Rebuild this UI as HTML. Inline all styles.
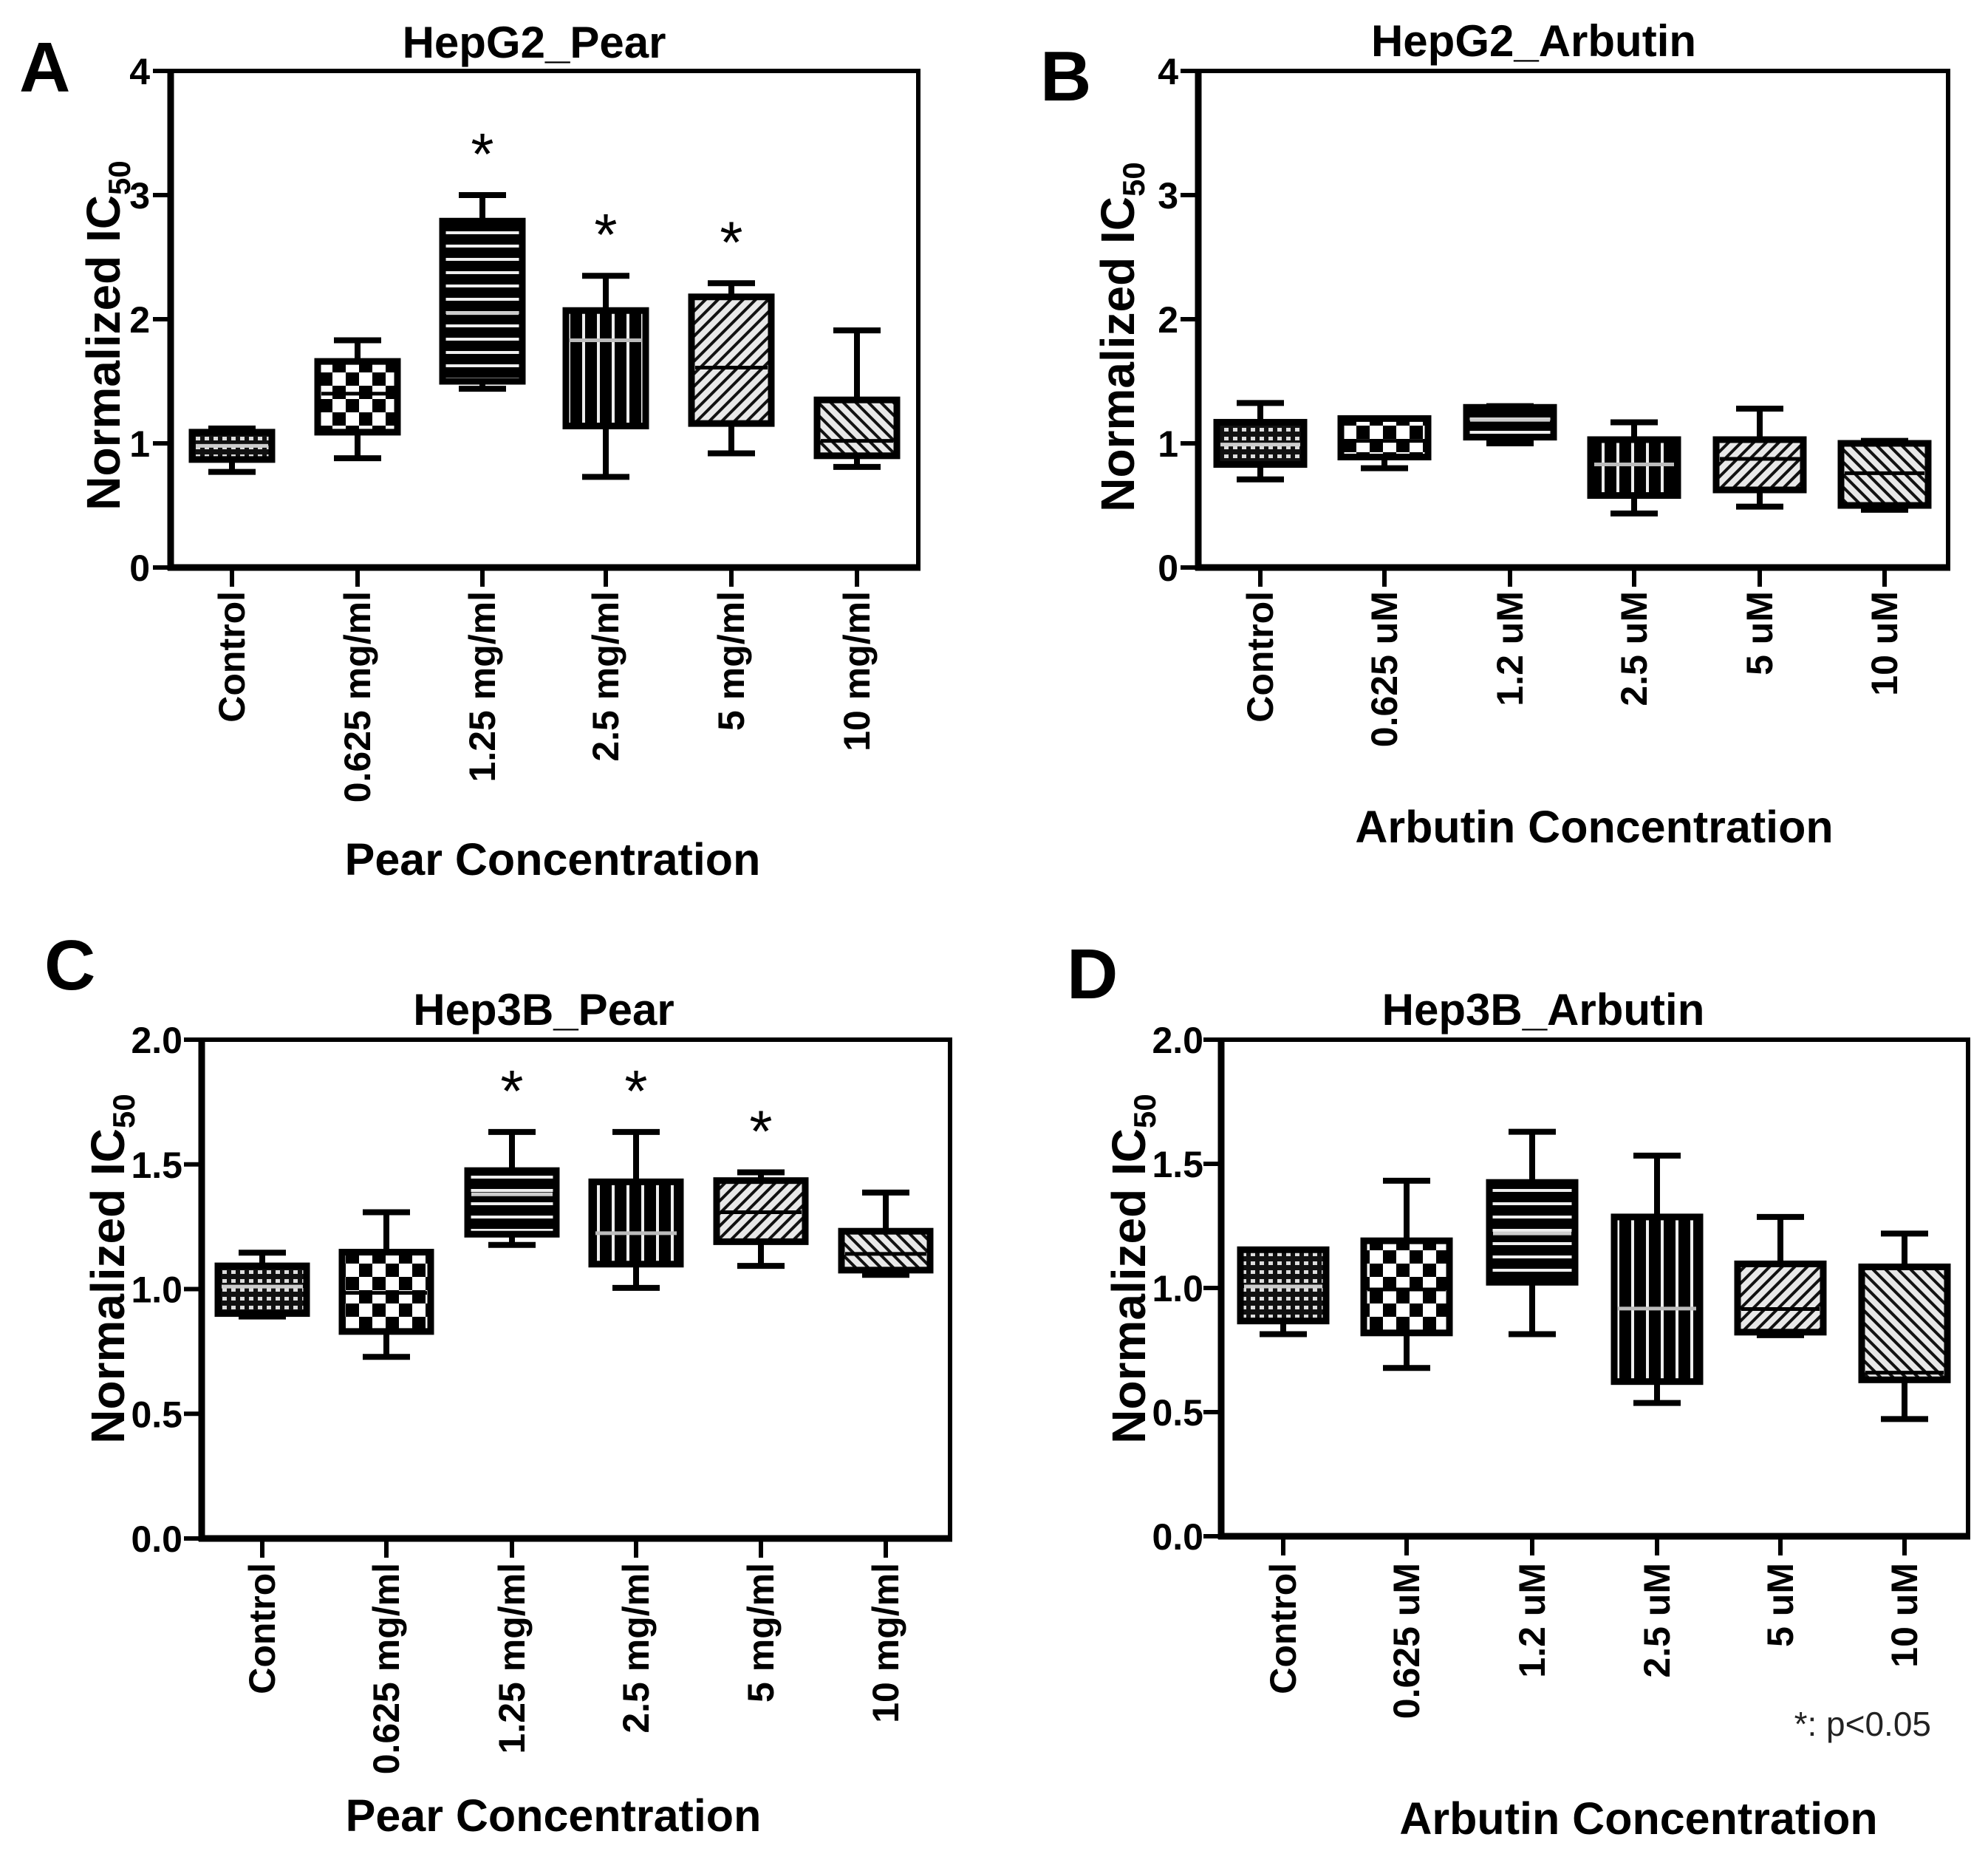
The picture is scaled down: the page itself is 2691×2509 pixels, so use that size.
<!DOCTYPE html>
<html><head><meta charset="utf-8"><style>
html,body{margin:0;padding:0;background:#fff}
svg{display:block}
text{font-family:"Liberation Sans",Arial,sans-serif}
</style></head>
<body>
<svg id="fig" width="2691" height="2509" viewBox="0 0 2691 2509" xmlns="http://www.w3.org/2000/svg">
<defs>
<pattern id="p0" width="12" height="12" patternUnits="userSpaceOnUse"><rect width="12" height="12" fill="#111"/><rect x="1" y="3" width="6" height="5" fill="#ddd"/></pattern>
<pattern id="p1" width="36" height="36" patternUnits="userSpaceOnUse"><rect width="36" height="36" fill="#fff"/><rect width="18" height="18" fill="#000"/><rect x="18" y="18" width="18" height="18" fill="#000"/></pattern>
<pattern id="p2" width="18" height="18" patternUnits="userSpaceOnUse"><rect width="18" height="18" fill="#000"/><rect y="7" width="18" height="4" fill="#eee"/></pattern>
<pattern id="p3" width="20" height="20" patternUnits="userSpaceOnUse"><rect width="20" height="20" fill="#000"/><rect x="8" width="4" height="20" fill="#eee"/></pattern>
<pattern id="p4" width="12" height="12" patternUnits="userSpaceOnUse" patternTransform="rotate(45)"><rect width="12" height="12" fill="#e8e8e8"/><rect width="4" height="12" fill="#111"/></pattern>
<pattern id="p5" width="12" height="12" patternUnits="userSpaceOnUse" patternTransform="rotate(-45)"><rect width="12" height="12" fill="#e8e8e8"/><rect width="4" height="12" fill="#111"/></pattern>
</defs>
</svg>
<script>
// ---- data ----
const catsPear = ["Control","0.625 mg/ml","1.25 mg/ml","2.5 mg/ml","5 mg/ml","10 mg/ml"];
const catsArb = ["Control","0.625 uM","1.2 uM","2.5 uM","5 uM","10 uM"];
const ticksA = ["0","1","2","3","4"];
const ticksC = ["0.0","0.5","1.0","1.5","2.0"];
// Panel A HepG2_Pear
const aMin = [0.77,0.88,1.44,0.73,0.92,0.81];
const aQ1  = [0.87,1.09,1.50,1.14,1.16,0.90];
const aMed = [0.98,1.40,2.05,1.83,1.61,1.02];
const aQ3  = [1.09,1.66,2.79,2.07,2.18,1.35];
const aMax = [1.12,1.83,3.00,2.35,2.29,1.91];
const aStar = [false,false,true,true,true,false];
// Panel B HepG2_Arbutin
const bMin = [0.71,0.80,1.00,0.435,0.49,0.465];
const bQ1  = [0.83,0.89,1.05,0.58,0.625,0.50];
const bMed = [0.99,1.02,1.19,0.83,0.875,0.76];
const bQ3  = [1.17,1.20,1.29,1.03,1.03,1.00];
const bMax = [1.325,1.20,1.30,1.17,1.28,1.02];
const bStar = [false,false,false,false,false,false];
// Panel C Hep3B_Pear
const cMin = [0.89,0.728,1.177,1.005,1.093,1.057];
const cQ1  = [0.902,0.83,1.22,1.10,1.19,1.076];
const cMed = [1.01,0.985,1.38,1.224,1.308,1.141];
const cQ3  = [1.093,1.148,1.475,1.43,1.435,1.232];
const cMax = [1.146,1.308,1.63,1.63,1.468,1.387];
const cStar = [false,false,true,true,true,false];
// Panel D Hep3B_Arbutin
const dMin = [0.814,0.678,0.814,0.537,0.81,0.472];
const dQ1  = [0.867,0.819,1.023,0.623,0.822,0.63];
const dMed = [1.006,0.994,1.22,0.917,0.915,0.659];
const dQ3  = [1.154,1.19,1.425,1.286,1.097,1.085];
const dMax = [1.154,1.432,1.629,1.533,1.286,1.219];
const dStar = [false,false,false,false,false,false];

const NS="http://www.w3.org/2000/svg";
const svg=document.getElementById('fig');
function mk(tag,attrs,parent,txt){const e=document.createElementNS(NS,tag);for(const k in attrs)e.setAttribute(k,attrs[k]);if(txt!==undefined)e.textContent=txt;(parent||svg).appendChild(e);return e;}

const fills=["url(#p0)","url(#p1)","url(#p2)","url(#p3)","url(#p4)","url(#p5)"];
const medCol=["#ccc","#000","#ccc","#bbb","#000","#000"];

function panel(cfg){
  const g=mk('g',{});
  
  
  const L=cfg.left,R=cfg.right,T=cfg.top,B=cfg.bottom;
  const y=v=>B-v/cfg.ymax*(B-T);
  const x=i=>cfg.cx[i];
  // letter
  const lt=mk('text',{x:cfg.letter[0],y:cfg.letter[1],'font-size':96,'font-weight':'bold'},g,cfg.letterTxt);
  
  
  // title
  const tt=mk('text',{x:cfg.title[0],y:cfg.title[1],'font-size':60,'font-weight':'bold','text-anchor':'middle'},g,cfg.titleTxt);
  
  
  // frame
  const fr=mk('rect',{x:L,y:T,width:R-L,height:B-T,fill:'none',stroke:'#000','stroke-width':6},g);
  
  
  mk('line',{x1:L,y1:T-3,x2:L,y2:B+4,stroke:'#000','stroke-width':9},g);
  mk('line',{x1:L-4,y1:B,x2:R+3,y2:B,stroke:'#000','stroke-width':9},g);
  // y ticks
  cfg.ticks.forEach((t,i)=>{
    const v=i*cfg.ymax/(cfg.ticks.length-1);
    mk('line',{x1:L-24,y1:y(v),x2:L,y2:y(v),stroke:'#000','stroke-width':6},g);
    const tl=mk('text',{x:cfg.tickRight,y:y(v)+18,'font-size':50,'font-weight':'bold','text-anchor':'end'},g,t);
    
    
  });
  // y title
  const yt=mk('text',{transform:`translate(${cfg.ytitle[0]},${cfg.ytitle[1]}) rotate(-90)`,'font-size':64,'font-weight':'bold','text-anchor':'middle'},g);
  
  
  mk('tspan',{},yt,'Normalized IC');
  mk('tspan',{'font-size':42,dy:14},yt,'50');
  // boxes
  cfg.cats.forEach((c,i)=>{
    const cx=x(i);
    mk('line',{x1:cx,y1:B,x2:cx,y2:B+26,stroke:'#000','stroke-width':6},g);
    const xl=mk('text',{transform:`translate(${cx+17},${cfg.labelTop}) rotate(-90)`,'font-size':50,'font-weight':'bold','text-anchor':'end'},g,c);
    
    
    const bw=cfg.boxW/2,cw=cfg.capW/2;
    const wk=mk('g',{stroke:'#000','stroke-width':8},g);
    
    
    mk('line',{x1:cx,y1:y(cfg.max[i]),x2:cx,y2:y(cfg.q3[i])},wk);
    mk('line',{x1:cx,y1:y(cfg.q1[i]),x2:cx,y2:y(cfg.min[i])},wk);
    mk('line',{x1:cx-cw,y1:y(cfg.max[i]),x2:cx+cw,y2:y(cfg.max[i])},wk);
    mk('line',{x1:cx-cw,y1:y(cfg.min[i]),x2:cx+cw,y2:y(cfg.min[i])},wk);
    const bx=mk('rect',{x:cx-bw,y:y(cfg.q3[i]),width:cfg.boxW,height:y(cfg.q1[i])-y(cfg.q3[i]),fill:fills[i],stroke:'#000','stroke-width':9},g);
    
    
    mk('line',{x1:cx-bw+5,y1:y(cfg.med[i]),x2:cx+bw-5,y2:y(cfg.med[i]),stroke:medCol[i],'stroke-width':5},g);
    if(cfg.star[i]){
      const st=mk('text',{x:cx,y:y(cfg.max[i])-28,'font-size':80,'text-anchor':'middle'},g,'*');
      
      
    }
  });
  const xt=mk('text',{x:cfg.xtitle[0],y:cfg.xtitle[1],'font-size':61,'font-weight':'bold','text-anchor':'middle'},g,cfg.xtitleTxt);
  
  
}

panel({id:'a',letterTxt:'A',letter:[26,124],titleTxt:'HepG2_Pear',title:[723,78],left:231,right:1243,top:96,bottom:768,ymax:4,ticks:ticksA,tickRight:203,
  cx:[314,484,653,820,990,1160],cats:catsPear,min:aMin,q1:aQ1,med:aMed,q3:aQ3,max:aMax,star:aStar,boxW:108,capW:64,labelTop:800,
  ytitle:[162,454],xtitle:[748,1184],xtitleTxt:'Pear Concentration'});
panel({id:'b',letterTxt:'B',letter:[1408,136],titleTxt:'HepG2_Arbutin',title:[2076,76],left:1622,right:2637,top:96,bottom:768,ymax:4,ticks:ticksA,tickRight:1595,
  cx:[1706,1874,2044,2212,2382,2551],cats:catsArb,min:bMin,q1:bQ1,med:bMed,q3:bQ3,max:bMax,star:bStar,boxW:118,capW:64,labelTop:800,
  ytitle:[1535,456],xtitle:[2158,1140],xtitleTxt:'Arbutin Concentration'});
panel({id:'c',letterTxt:'C',letter:[60,1339],titleTxt:'Hep3B_Pear',title:[736,1387],left:273,right:1286,top:1407,bottom:2082,ymax:2,ticks:ticksC,tickRight:247,
  cx:[355,523,693,861,1030,1199],cats:catsPear,min:cMin,q1:cQ1,med:cMed,q3:cQ3,max:cMax,star:cStar,boxW:120,capW:64,labelTop:2115,
  ytitle:[168,1717],xtitle:[749,2478],xtitleTxt:'Pear Concentration'});
panel({id:'d',letterTxt:'D',letter:[1444,1351],titleTxt:'Hep3B_Arbutin',title:[2089,1387],left:1653,right:2664,top:1407,bottom:2079,ymax:2,ticks:ticksC,tickRight:1629,
  cx:[1737,1904,2074,2243,2410,2578],cats:catsArb,min:dMin,q1:dQ1,med:dMed,q3:dQ3,max:dMax,star:dStar,boxW:116,capW:64,labelTop:2115,
  ytitle:[1550,1717],xtitle:[2218,2482],xtitleTxt:'Arbutin Concentration'});

const note=mk('text',{x:2614,y:2349,'font-size':46,'text-anchor':'end',fill:'#222'},svg,'*: p<0.05');


</script>
</body></html>
